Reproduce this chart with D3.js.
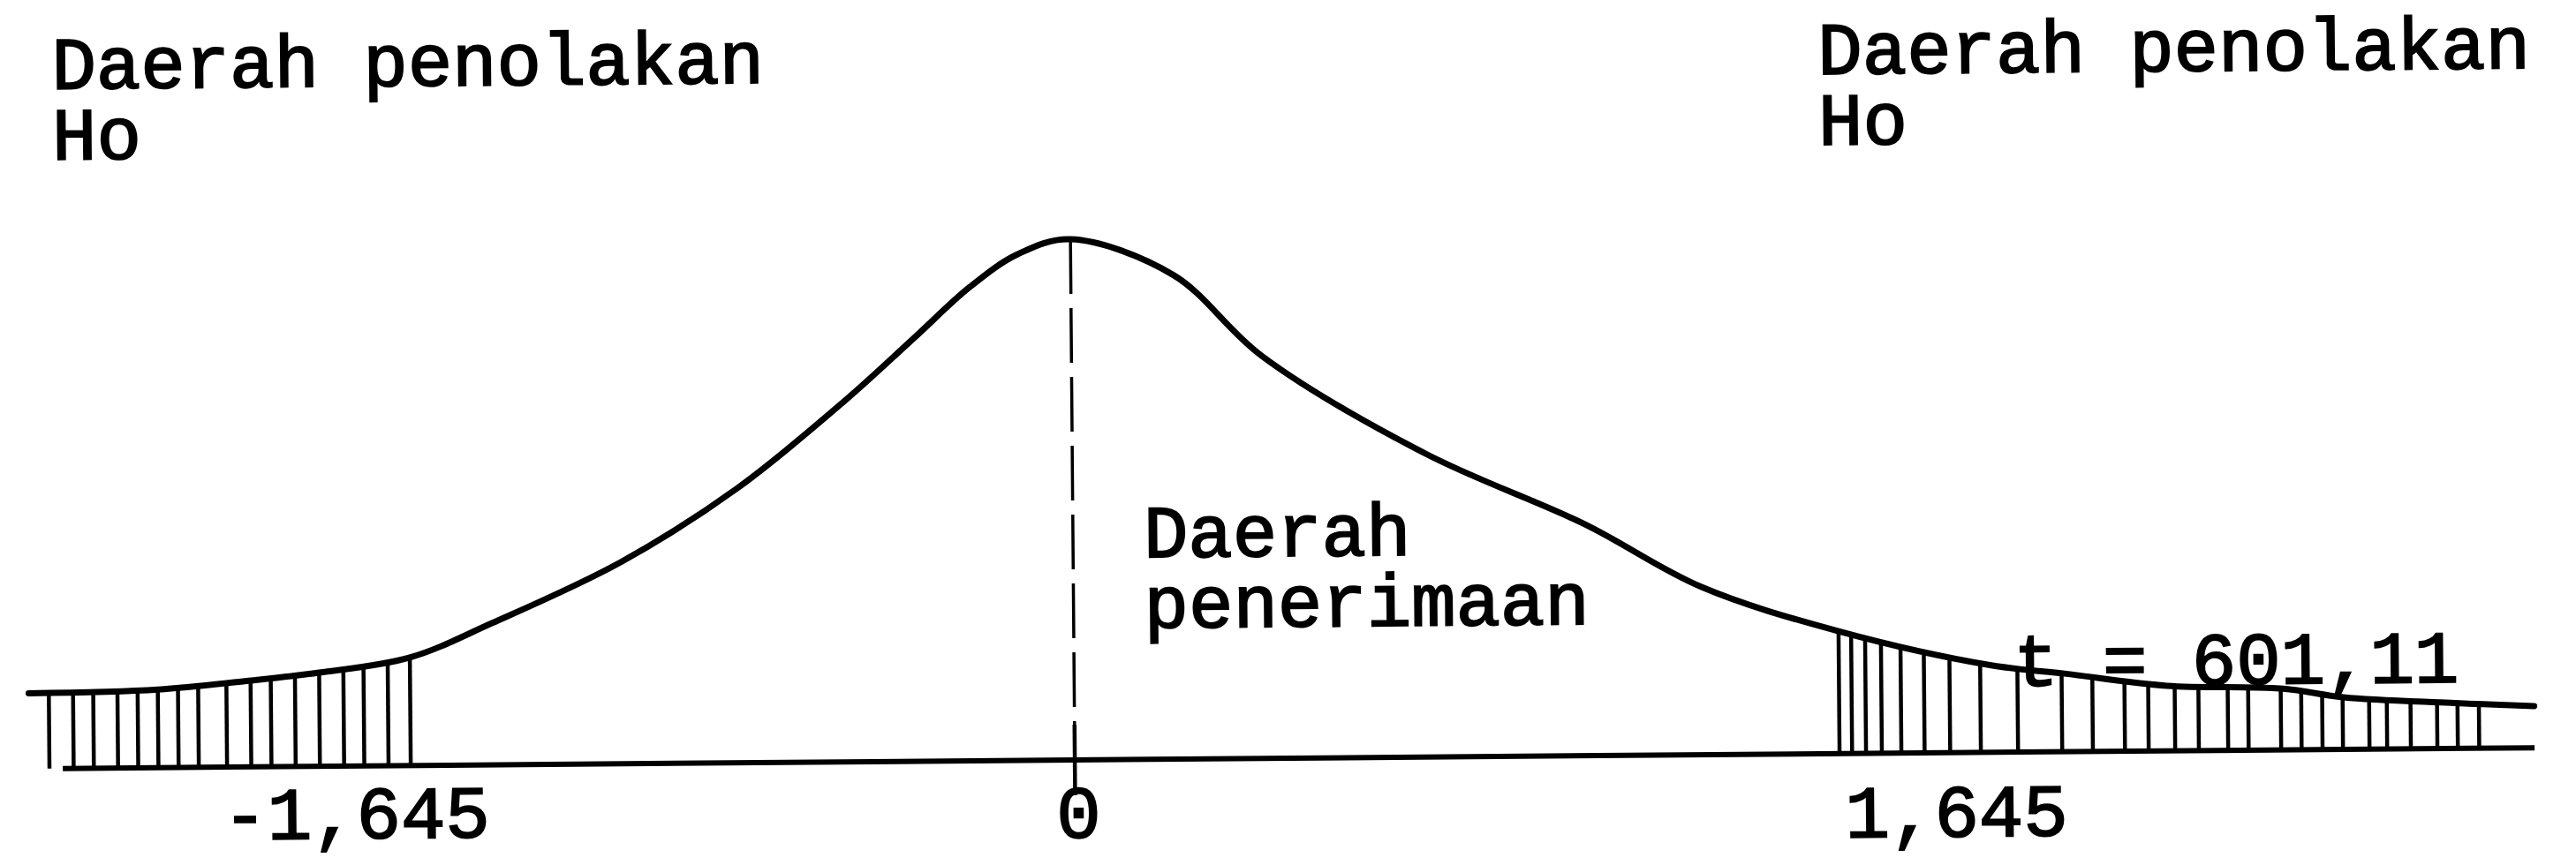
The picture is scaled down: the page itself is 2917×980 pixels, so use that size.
<!DOCTYPE html>
<html>
<head>
<meta charset="utf-8">
<script src="https://cdn.jsdelivr.net/npm/d3@7"></script>
<style>
  html, body { margin: 0; padding: 0; background: #fff; }
  svg { display: block; }
</style>
</head>
<body>
<svg id="chart" width="2917" height="980"></svg>
<script>
// Sampling distribution of t: positions (t units) and density heights along the drawn curve
const curveT = [-2.59, -2.27, -2.05, -1.87, -1.645, -1.44, -1.12, -0.83, -0.56, -0.39, -0.25, -0.13, 0,
                0.22, 0.41, 0.76, 1.10, 1.35, 1.645, 1.97, 2.13, 2.35, 2.60, 2.73, 2.96, 3.14];
const curveDensity = [0.058, 0.060, 0.066, 0.072, 0.083, 0.109, 0.155, 0.211, 0.278, 0.325, 0.364, 0.389, 0.400,
                      0.372, 0.309, 0.233, 0.178, 0.129, 0.094, 0.067, 0.060, 0.050, 0.047, 0.040, 0.035, 0.032];

// Critical values and their labels
const tickValues = [-1.645, 0, 1.645];
const tickLabels = ["-1,645", "0", "1,645"];

// Hatch strokes marking the two rejection regions (t positions)
const leftHatchT = [-2.54, -2.48, -2.43, -2.37, -2.32, -2.27, -2.22, -2.17, -2.10, -2.04, -1.99, -1.93,
                    -1.87, -1.81, -1.76, -1.70, -1.645];
const rightHatchT = [1.645, 1.672, 1.702, 1.736, 1.778, 1.828, 1.883, 1.949, 2.029, 2.124, 2.190, 2.259,
                     2.310, 2.367, 2.418, 2.481, 2.525, 2.595, 2.639, 2.684, 2.728, 2.785, 2.823, 2.874,
                     2.931, 2.975, 3.021];

// Region captions
const rejectLabel = ["Daerah penolakan", "Ho"];
const acceptLabel = ["Daerah", "penerimaan"];
const statLabel = "t = 601,11";

const svg = d3.select("#chart");
const FONT = "'Liberation Mono', 'DejaVu Sans Mono', monospace";
const FONT_SIZE = 84;
const LEADING = 80;

// whole sheet sits a touch off level
const g = svg.append("g").attr("transform", "rotate(-0.48 1458 490)");

// the drawing is not to scale: left and right halves have their own spacing
const x = d3.scaleLinear().domain(tickValues).range([462, 1214, 2080]);
const y = d3.scaleLinear().domain([0, 0.4]).range([859, 269]);

const pts = curveT.map((t, i) => [t, curveDensity[i]]);

// horizontal axis line
g.append("line")
  .attr("x1", 68).attr("x2", x(curveT[curveT.length - 1]))
  .attr("y1", y(0)).attr("y2", y(0))
  .attr("stroke", "#000").attr("stroke-width", 6);

// density curve
const line = d3.line()
  .x(d => x(d[0])).y(d => y(d[1]))
  .curve(d3.curveCatmullRom.alpha(0.5));

const path = g.append("path")
  .datum(pts)
  .attr("d", line)
  .attr("fill", "none")
  .attr("stroke", "#000")
  .attr("stroke-width", 7)
  .attr("stroke-linejoin", "round")
  .attr("stroke-linecap", "round");

// look up the curve height at any x by walking the rendered path
const node = path.node();
const total = node.getTotalLength();
const samples = d3.range(0, total + 1, 1).map(l => node.getPointAtLength(l));
const bis = d3.bisector(p => p.x).left;
function curveYAt(px) {
  const i = Math.max(1, Math.min(samples.length - 1, bis(samples, px)));
  const a = samples[i - 1], b = samples[i];
  const f = b.x === a.x ? 0 : (px - a.x) / (b.x - a.x);
  return a.y + f * (b.y - a.y);
}

// hatching under both tails
g.append("g").selectAll("line")
  .data(leftHatchT.concat(rightHatchT))
  .join("line")
  .attr("x1", d => x(d)).attr("x2", d => x(d))
  .attr("y1", y(0)).attr("y2", d => curveYAt(x(d)))
  .attr("stroke", "#000").attr("stroke-width", 4.5);

// centre line through the mean
g.append("line")
  .attr("x1", x(0)).attr("x2", x(0))
  .attr("y1", y(0.4)).attr("y2", y(0) - 40)
  .attr("stroke", "#000").attr("stroke-width", 3.5)
  .attr("stroke-dasharray", "62 16");
g.append("line")
  .attr("x1", x(0)).attr("x2", x(0))
  .attr("y1", y(0) - 40).attr("y2", y(0) + 40)
  .attr("stroke", "#000").attr("stroke-width", 4.5);

// text helpers
function styleText(sel) {
  return sel.attr("font-family", FONT).attr("font-size", FONT_SIZE)
    .attr("fill", "#000").attr("stroke", "#000").attr("stroke-width", 2);
}
function textBlock(lines, px, py) {
  const t = styleText(g.append("text").attr("x", px).attr("y", py));
  lines.forEach((s, i) => {
    t.append("tspan").attr("x", px).attr("y", py + i * LEADING).text(s);
  });
}

textBlock(rejectLabel, 62, 89);
textBlock(rejectLabel, 2062, 89);
textBlock(acceptLabel, 1294, 630);

styleText(g.append("text").attr("x", 2278).attr("y", 784)).text(statLabel);

// critical value labels under the axis
const labelShift = [-62, 4, 132];
const labelDrop = [941, 947, 954];
styleText(g.append("g").selectAll("text")
  .data(tickValues)
  .join("text"))
  .attr("x", (d, i) => x(d) + labelShift[i])
  .attr("y", (d, i) => labelDrop[i])
  .attr("text-anchor", "middle")
  .text((d, i) => tickLabels[i]);
</script>
</body>
</html>
